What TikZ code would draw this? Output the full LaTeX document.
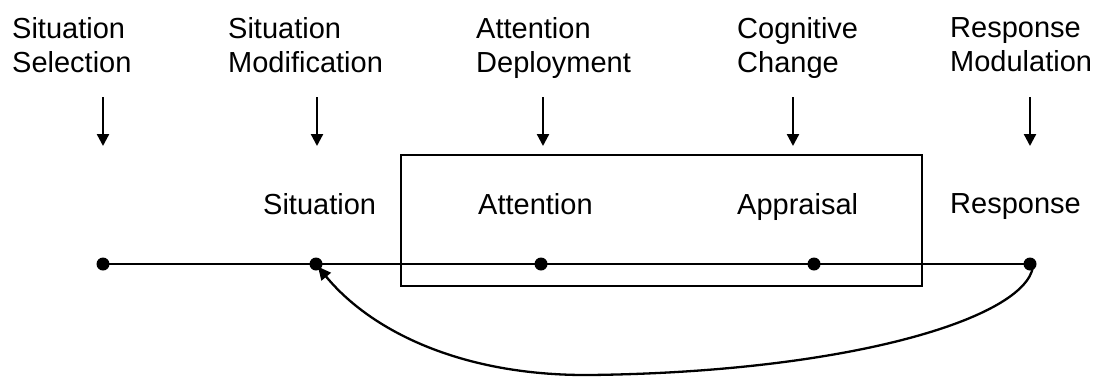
\documentclass[tikz,border=0pt]{standalone}
\usepackage{fontspec}
\setmainfont{Liberation Sans}
\usetikzlibrary{arrows.meta}
\begin{document}
\begin{tikzpicture}[x=1pt,y=-1pt,
  lbl/.style={anchor=north west,inner sep=0pt,align=left,font=\fontsize{29}{34}\selectfont,text=black},
  dot/.style={circle,fill=black,inner sep=0pt,minimum size=13pt},
  darrow/.style={line width=2.3pt,-{Triangle[length=12pt,width=12pt]}},
  line/.style={line width=2.3pt}]
\useasboundingbox (0,0) rectangle (1098,378);
% top labels
\node[lbl] (t1) at (12,17) {Situation\\Selection};
\node[lbl] (t2) at (228,17) {Situation\\Modification};
\node[lbl] (t3) at (476,17) {Attention\\Deployment};
\node[lbl] (t4) at (737,17) {Cognitive\\Change};
\node[lbl] (t5) at (950,17) {Response\\Modulation};
% arrow coordinates
\coordinate (a1s) at (103,97);  \coordinate (a1e) at (103,146);
\coordinate (a2s) at (317,97);  \coordinate (a2e) at (317,146);
\coordinate (a3s) at (543,97);  \coordinate (a3e) at (543,146);
\coordinate (a4s) at (793,97);  \coordinate (a4e) at (793,146);
\coordinate (a5s) at (1030,97); \coordinate (a5e) at (1030,146);
\foreach \i in {1,...,5}{\draw[darrow] (a\i s) -- (a\i e);}
% box
\node[draw,line width=2.3pt,minimum width=521pt,minimum height=131pt,inner sep=0pt] (box) at (661.5,220.5) {};
% lower labels
\node[lbl] (l2) at (263,193) {Situation};
\node[lbl] (l3) at (478,193) {Attention};
\node[lbl] (l4) at (737,193) {Appraisal};
\node[lbl] (l5) at (950,193) {Response};
% timeline
\node[dot] (d1) at (103,264) {};
\node[dot] (d2) at (316,264) {};
\node[dot] (d3) at (541,264) {};
\node[dot] (d4) at (814,264) {};
\node[dot] (d5) at (1030,264) {};
\draw[line] (d1.center) -- (d5.center);
% feedback curve
\coordinate (bot) at (590,375);
\draw[line width=2.3pt,-{Triangle[length=13pt,width=12pt]}] ([xshift=3pt,yshift=4pt]d5.south) .. controls (1025,318) and (850,372) .. (bot) .. controls (460,376) and (370,330) .. ([xshift=2pt,yshift=4pt]d2.south);
\end{tikzpicture}
\end{document}
